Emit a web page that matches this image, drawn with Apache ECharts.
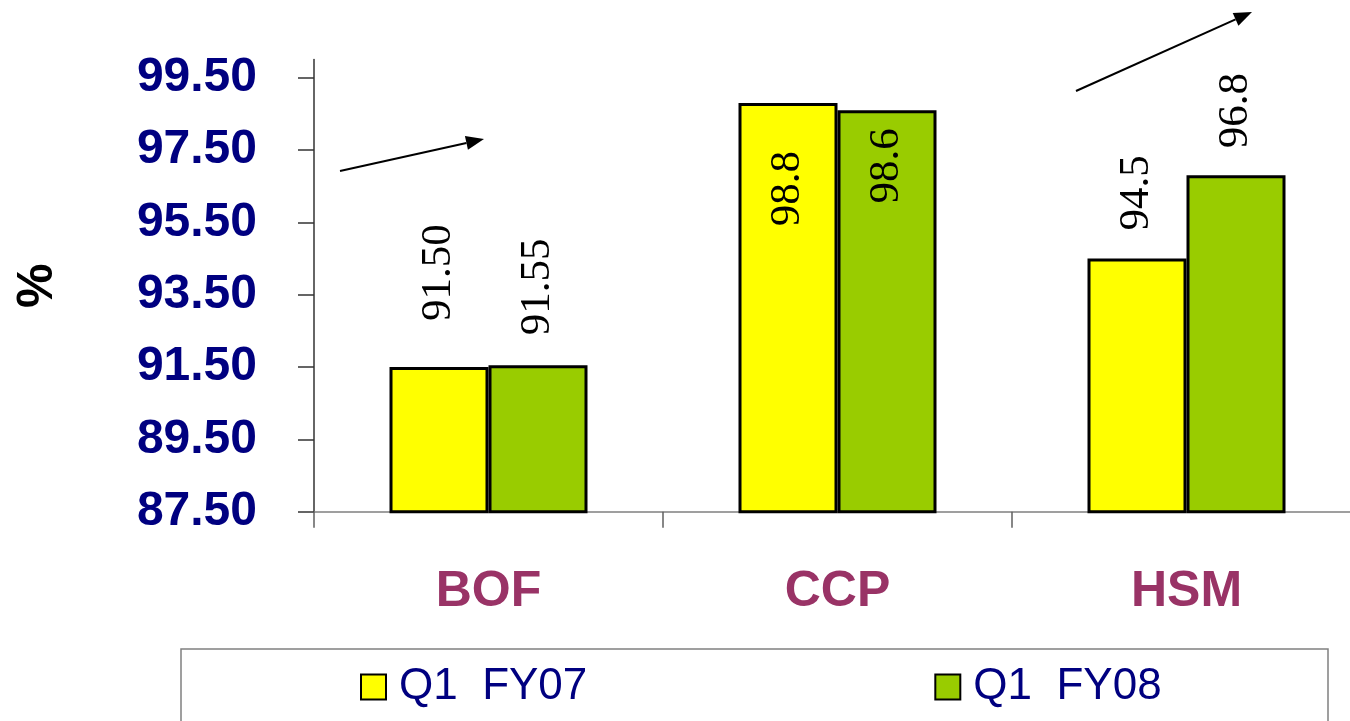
<!DOCTYPE html>
<html>
<head>
<meta charset="utf-8">
<script src="https://cdn.jsdelivr.net/npm/echarts@6/dist/echarts.min.js"></script>
<style>
  html, body { margin: 0; padding: 0; background: #fff; }
  #chart { width: 1350px; height: 721px; }
</style>
</head>
<body>
<div id="chart"></div>
<script>
// Plant sections and quarterly availability (%)
const categories = ['BOF', 'CCP', 'HSM'];
const seriesNames = ['Q1  FY07', 'Q1  FY08'];
const fy07 = [91.50, 98.8, 94.5];
const fy08 = [91.55, 98.6, 96.8];
// decimals shown in each section's value labels
const labelDecimals = [2, 1, 1];
// value-axis tick labels
const yTicks = [87.5, 89.5, 91.5, 93.5, 95.5, 97.5, 99.5];

// where each value label sits relative to its bar
const labelPlacement = {
  fy07: [
    { position: 'top', distance: 46 },
    { position: 'insideTop', distance: 48 },
    { position: 'top', distance: 28 }
  ],
  fy08: [
    { position: 'top', distance: 30 },
    { position: 'insideTop', distance: 18 },
    { position: 'top', distance: 27 }
  ]
};

const SANS = '"Liberation Sans", Arial, sans-serif';
const SERIF = '"Liberation Serif", "Times New Roman", serif';

function buildData(values, placement) {
  return values.map(function (v, i) {
    const p = placement[i];
    const inside = p.position === 'insideTop';
    return {
      value: v,
      label: {
        show: true,
        position: p.position,
        distance: p.distance,
        rotate: 90,
        align: inside ? 'right' : 'left',
        verticalAlign: 'middle',
        formatter: function () { return v.toFixed(labelDecimals[i]); }
      }
    };
  });
}

function barSeries(name, values, color, placement) {
  return {
    name: name,
    type: 'bar',
    barWidth: 99,
    barGap: '0%',
    itemStyle: { color: color, borderColor: '#000', borderWidth: 3 },
    label: {
      color: '#000',
      fontFamily: SERIF,
      fontSize: 43
    },
    emphasis: { disabled: true },
    data: buildData(values, placement)
  };
}

// trend arrow: a shaft with a filled triangular head
function arrow(x1, y1, x2, y2) {
  const len = Math.hypot(x2 - x1, y2 - y1);
  const ux = (x2 - x1) / len, uy = (y2 - y1) / len;
  const head = 18, half = 7;
  const bx = x2 - ux * head, by = y2 - uy * head;
  return {
    type: 'group',
    children: [
      {
        type: 'line',
        shape: { x1: x1, y1: y1, x2: bx, y2: by },
        style: { stroke: '#000', lineWidth: 2 }
      },
      {
        type: 'polygon',
        shape: { points: [[x2, y2], [bx - uy * half, by + ux * half], [bx + uy * half, by - ux * half]] },
        style: { fill: '#000' }
      }
    ]
  };
}

const chart = echarts.init(document.getElementById('chart'), null, { renderer: 'canvas' });

chart.setOption({
  backgroundColor: '#fff',
  animation: false,
  grid: {
    left: 314, right: -11, top: 59.6, bottom: 209.3,
    containLabel: false,
    outerBoundsMode: 'none'
  },
  legend: {
    data: seriesNames,
    left: 355,
    top: 660,
    itemWidth: 25,
    itemHeight: 25,
    itemGap: 347,
    icon: 'rect',
    selectedMode: false,
    textStyle: { color: '#000080', fontFamily: SANS, fontSize: 44, padding: [0, 0, 0, 8] }
  },
  xAxis: {
    type: 'category',
    data: categories,
    axisLine: { lineStyle: { color: '#808080', width: 1.5 } },
    axisTick: { show: true, interval: 0, length: 16, lineStyle: { color: '#606060', width: 1.5 } },
    axisLabel: {
      color: '#993366',
      fontFamily: SANS,
      fontWeight: 'bold',
      fontSize: 50,
      margin: 56
    }
  },
  yAxis: {
    type: 'value',
    min: 87.5,
    max: 100,
    name: '%',
    nameLocation: 'middle',
    nameRotate: 90,
    nameGap: 251,
    nameTextStyle: { color: '#000', fontFamily: SANS, fontWeight: 'bold', fontSize: 50 },
    splitLine: { show: false },
    axisLine: { show: true, lineStyle: { color: '#333', width: 1.5 } },
    axisTick: { show: true, length: 16, customValues: yTicks, lineStyle: { color: '#333', width: 1.5 } },
    axisLabel: {
      customValues: yTicks,
      color: '#000080',
      fontFamily: SANS,
      fontWeight: 'bold',
      fontSize: 48,
      margin: 57,
      formatter: function (v) { return v.toFixed(2); }
    }
  },
  series: [
    barSeries(seriesNames[0], fy07, '#FFFF00', labelPlacement.fy07),
    barSeries(seriesNames[1], fy08, '#99CC00', labelPlacement.fy08)
  ],
  graphic: [
    {
      type: 'rect',
      silent: true,
      shape: { x: 181, y: 649, width: 1147, height: 120 },
      style: { fill: 'none', stroke: '#808080', lineWidth: 1.5 }
    },
    arrow(340, 171, 484, 139),
    arrow(1076, 91, 1252, 12)
  ]
});
</script>
</body>
</html>
